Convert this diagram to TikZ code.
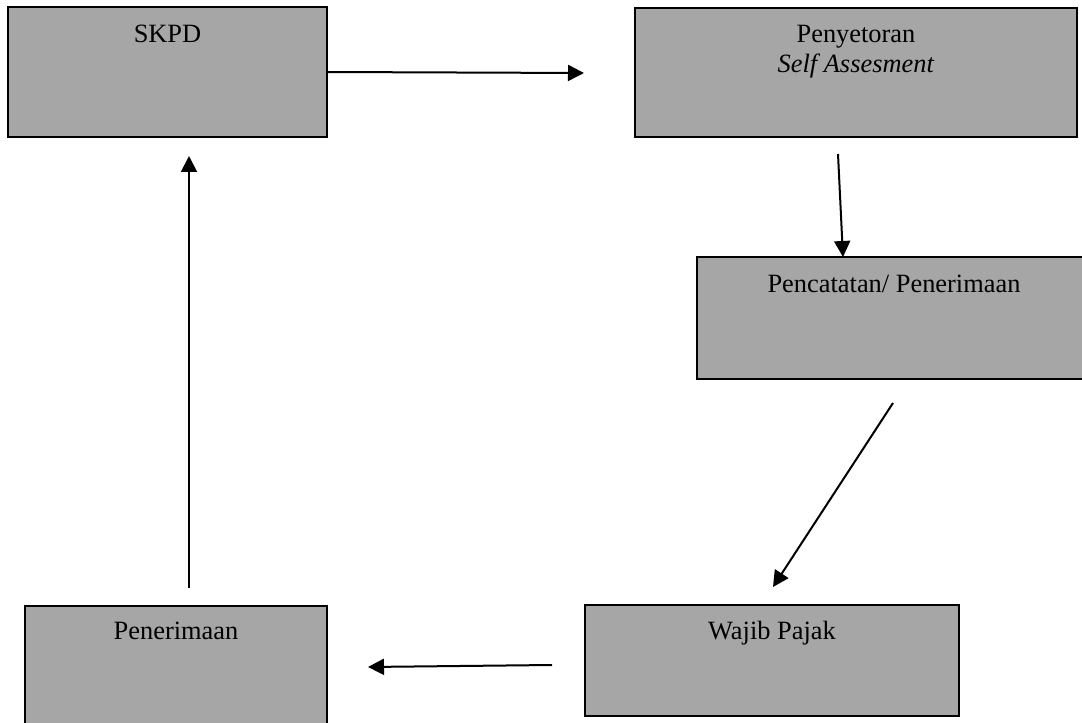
\documentclass[tikz,border=0pt]{standalone}
\usepackage{fontspec}
\setmainfont{Liberation Serif}
\usetikzlibrary{arrows.meta,calc,fit}
\definecolor{boxgray}{RGB}{166,166,166}
\begin{document}
\begin{tikzpicture}[x=0.75pt,y=-0.75pt,
  box/.style={draw=black,line width=1.4pt,fill=boxgray,rectangle,inner sep=0pt},
  lbl/.style={font=\fontsize{19.8}{24}\selectfont,anchor=base,inner sep=0pt},
  conn/.style={line width=1.5pt,-{Triangle[length=12pt,width=12pt]}}]
\useasboundingbox (0,0) rectangle (1082,723);
\clip (0,0) rectangle (1082,723);
% boxes
\node[box,fit={(8,7)(327,137)}] (skpd) {};
\node[box,fit={(635,8)(1077,137)}] (peny) {};
\node[box,fit={(697,257)(1091,379)}] (penc) {};
\node[box,fit={(585,605)(959,716)}] (wajib) {};
\node[box,fit={(25,606)(327,732)}] (pener) {};
% labels
\node[lbl] (skpdT) at ($(skpd.north)+(0,36)$) {SKPD};
\node[lbl] (penyT) at ($(peny.north)+(0,35)$) {Penyetoran};
\node[lbl] (penyT2) at ($(penyT.base)+(0,30)$) {\textit{Self Assesment}};
\node[lbl] (pencT) at ($(penc.north)+(0,36)$) {Pencatatan/ Penerimaan};
\node[lbl] (wajibT) at ($(wajib.north)+(0,35)$) {Wajib Pajak};
\node[lbl] (penerT) at ($(pener.north)+(0,34)$) {Penerimaan};
% connector end points
\coordinate (a1s) at (327,72);
\coordinate (a1e) at (584,73);
\coordinate (a2s) at (838,154);
\coordinate (a2e) at (843,257);
\coordinate (a3s) at (893,403);
\coordinate (a3e) at (773,587);
\coordinate (a4s) at (552,665);
\coordinate (a4e) at (368,667);
\coordinate (a5s) at (189,588);
\coordinate (a5e) at (189,156);
% connectors
\draw[conn] (a1s) -- (a1e);
\draw[conn] (a2s) -- (a2e);
\draw[conn] (a3s) -- (a3e);
\draw[conn] (a4s) -- (a4e);
\draw[conn] (a5s) -- (a5e);
\end{tikzpicture}
\end{document}
